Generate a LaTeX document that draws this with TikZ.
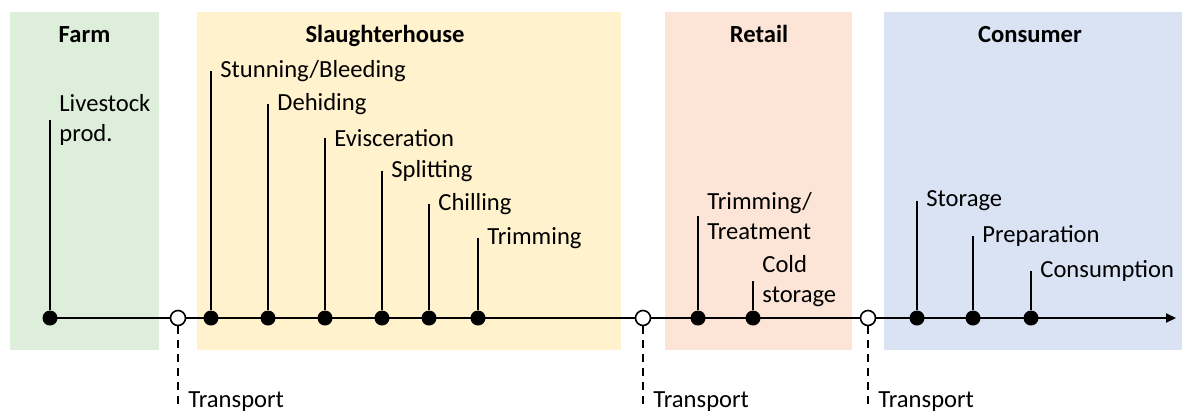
\documentclass[tikz,border=0pt]{standalone}
\usepackage{fontspec}
\setmainfont{Carlito}
\usetikzlibrary{arrows.meta, positioning, backgrounds}
\definecolor{FarmGreen}{RGB}{221, 238, 218}
\definecolor{SlaughterYellow}{RGB}{255, 242, 204}
\definecolor{RetailPeach}{RGB}{252, 228, 214}
\definecolor{ConsumerBlue}{RGB}{218, 227, 243}

\tikzset{
    stagetitle/.style={font=\fontsize{12.3}{15}\selectfont\bfseries, anchor=base, inner sep=0pt},
    stepdot/.style={circle, fill=black, inner sep=0pt, minimum size=7.5pt},
    transdot/.style={circle, draw=black, fill=white, line width=0.8pt, inner sep=0pt, minimum size=7.5pt},
    steplabel/.style={anchor=west, align=left, inner sep=0pt, xshift=4.5pt},
    stem/.style={line width=1pt},
    transline/.style={line width=0.75pt, dash pattern=on 4pt off 3pt},
}

\begin{document}
\begin{tikzpicture}[x=0.5pt, y=-0.5pt, font=\fontsize{12.3}{15}\selectfont]
            \useasboundingbox (0,0) rectangle (1182,414);

            % Stage titles
            \node[stagetitle] (farmtitle) at (84.5,42) {Farm};
            \node[stagetitle] (slaughtertitle) at (385,42) {Slaughterhouse};
            \node[stagetitle] (retailtitle) at (759,42) {Retail};
            \node[stagetitle] (consumertitle) at (1030,42) {Consumer};

            % Process steps with stems and labels
            \foreach \id/\x/\top/\txt in {
                livestock/50/120/{Livestock\\prod.},
                stunning/211/71/{Stunning/Bleeding},
                dehiding/268/104/{Dehiding},
                evisceration/325/138/{Evisceration},
                splitting/382/171/{Splitting},
                chilling/429/204/{Chilling},
                trimming/478/238/{Trimming},
                treatment/698/216/{Trimming/\\Treatment},
                coldstorage/753/281/{Cold\\storage},
                storage/917/201/{Storage},
                preparation/973/236/{Preparation},
                consumption/1031/271/{Consumption}} {
                \node[stepdot] (\id) at (\x,318) {};
                \coordinate (\id top) at (\x,\top);
                \draw[stem] (\id) -- (\id top);
                \node[steplabel] (\id label) at (\id top) {\txt};
            }

            % Transport points between stages
            \foreach \id/\x in {transportA/178, transportB/643, transportC/868} {
                \node[transdot] (\id) at (\x,318) {};
                \coordinate (\id end) at (\x,404);
                \draw[transline] (\id) -- (\id end);
                \node[anchor=base west, inner sep=0pt] (\id label) at (\x+10,407) {Transport};
            }

            % Stage backgrounds and time axis behind everything
            \begin{scope}[on background layer]
                \fill[FarmGreen] (10,12) rectangle (159,350);
                \fill[SlaughterYellow] (197,12) rectangle (621,350);
                \fill[RetailPeach] (665,12) rectangle (852,350);
                \fill[ConsumerBlue] (884,12) rectangle (1182,350);
                \coordinate (axisend) at (1176,318);
                \draw[line width=1pt, -{Triangle[length=5pt, width=4.5pt]}] (livestock.center) -- (axisend);
            \end{scope}
        \end{tikzpicture}
\end{document}
